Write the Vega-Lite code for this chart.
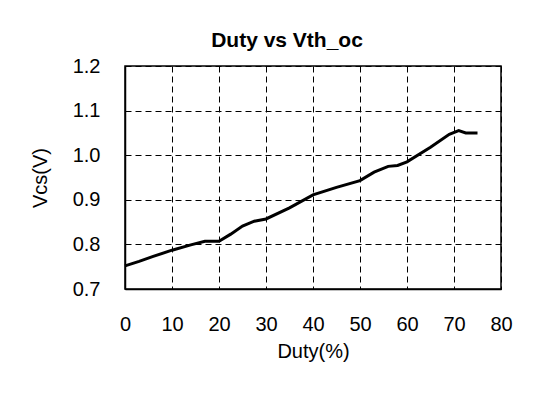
{
  "$schema": "https://vega.github.io/schema/vega-lite/v6.json",
  "autosize": "none",
  "width": 376,
  "height": 223,
  "padding": {"left": 125, "top": 66, "right": 54, "bottom": 116},
  "background": "white",
  "title": {
    "text": "Duty vs Vth_oc",
    "font": "Liberation Sans",
    "fontSize": 21,
    "fontWeight": "bold",
    "color": "#000",
    "anchor": "middle",
    "dx": -26,
    "offset": 5
  },
  "data": {
    "values": [
      {"duty": 0, "vcs": 0.752},
      {"duty": 3, "vcs": 0.762},
      {"duty": 6, "vcs": 0.773},
      {"duty": 10, "vcs": 0.787},
      {"duty": 14, "vcs": 0.799},
      {"duty": 17, "vcs": 0.807},
      {"duty": 20, "vcs": 0.807},
      {"duty": 22.5, "vcs": 0.823},
      {"duty": 25, "vcs": 0.841},
      {"duty": 27.5, "vcs": 0.852},
      {"duty": 30, "vcs": 0.857},
      {"duty": 35, "vcs": 0.882},
      {"duty": 40, "vcs": 0.911},
      {"duty": 45, "vcs": 0.928},
      {"duty": 50, "vcs": 0.943},
      {"duty": 53, "vcs": 0.962},
      {"duty": 56, "vcs": 0.975},
      {"duty": 58, "vcs": 0.977},
      {"duty": 60, "vcs": 0.985},
      {"duty": 65, "vcs": 1.018},
      {"duty": 69, "vcs": 1.047},
      {"duty": 71, "vcs": 1.055},
      {"duty": 72.5, "vcs": 1.05},
      {"duty": 75, "vcs": 1.05}
    ]
  },
  "mark": {"type": "line", "color": "#000", "strokeWidth": 3, "interpolate": "linear"},
  "encoding": {
    "x": {
      "field": "duty",
      "type": "quantitative",
      "scale": {"domain": [0, 80], "nice": false},
      "axis": {
        "title": "Duty(%)",
        "values": [0, 10, 20, 30, 40, 50, 60, 70, 80],
        "labelPadding": 25,
        "titlePadding": 7
      }
    },
    "y": {
      "field": "vcs",
      "type": "quantitative",
      "scale": {"domain": [0.7, 1.2], "nice": false, "zero": false},
      "axis": {
        "title": "Vcs(V)",
        "values": [0.7, 0.8, 0.9, 1.0, 1.1, 1.2],
        "format": ".1f",
        "labelPadding": 25,
        "titlePadding": 22
      }
    }
  },
  "config": {
    "view": {"stroke": "#000", "strokeWidth": 1.5},
    "axis": {
      "labelFont": "Liberation Sans",
      "labelFontSize": 20,
      "labelColor": "#000",
      "titleFont": "Liberation Sans",
      "titleFontSize": 20,
      "titleFontWeight": "normal",
      "titleColor": "#000",
      "ticks": false,
      "domain": true,
      "domainColor": "#000",
      "domainWidth": 1.5,
      "grid": true,
      "gridColor": "#000",
      "gridOpacity": 1,
      "gridWidth": 1,
      "gridDash": [6, 4],
      "labelFlush": false,
      "labelOverlap": false
    }
  }
}
